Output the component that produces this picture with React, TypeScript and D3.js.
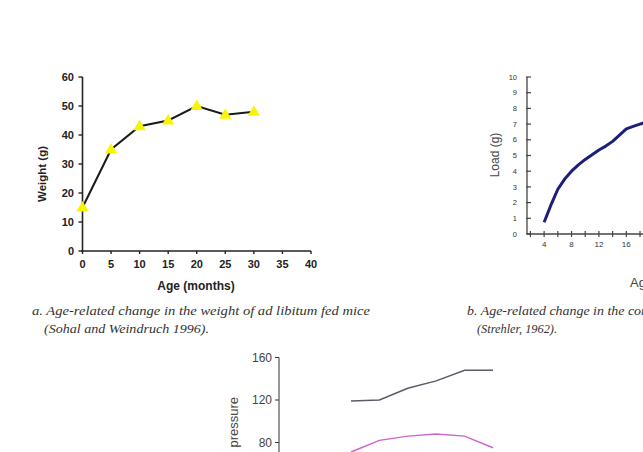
import React from 'react';
import * as d3 from 'd3';

// panel a: body weight of ad libitum fed mice
const weightAges: number[] = [0, 5, 10, 15, 20, 25, 30];
const weightValues: number[] = [15, 35, 43, 45, 50, 47, 48];
const weightYTicks: number[] = [0, 10, 20, 30, 40, 50, 60];
const weightXTicks: number[] = [0, 5, 10, 15, 20, 25, 30, 35, 40];

// panel b: load lifted by muscle
const loadAges: number[] = [4, 5, 6, 7, 8, 9, 10, 11, 12, 13, 14, 15, 16, 17, 18, 19];
const loadValues: number[] = [0.75, 1.85, 2.85, 3.5, 4.0, 4.4, 4.75, 5.05, 5.35, 5.6, 5.9, 6.3, 6.7, 6.85, 7.0, 7.15];
const loadYTicks: number[] = [0, 1, 2, 3, 4, 5, 6, 7, 8, 9, 10];
const loadXTicks: number[] = [2, 4, 6, 8, 10, 12, 14, 16, 18, 20];
const loadXLabels: number[] = [4, 8, 12, 16, 20];

// panel c: blood pressure
const pressureAges: number[] = [30, 40, 50, 60, 70, 80];
const systolic: number[] = [119, 120, 131, 138, 148, 148];
const diastolic: number[] = [71, 82, 86, 88, 86, 75];
const pressureTicks: number[] = [80, 120, 160];

const sans = '"Liberation Sans", Arial, sans-serif';
const serif = '"Liberation Serif", "Times New Roman", serif';

const App: React.FC = () => {
  // ---- a ----
  const xA = d3.scaleLinear().domain([0, 40]).range([82.5, 311]);
  const yA = d3.scaleLinear().domain([0, 60]).range([251, 77]);
  const lineA = d3
    .line<number>()
    .x((_, i) => xA(weightAges[i]))
    .y((d) => yA(d));
  const tri = d3.symbol().type(d3.symbolTriangle).size(65);

  // ---- b ----
  const xB = d3.scaleLinear().domain([1.5, 20]).range([527, 527 + 18.5 * 6.85]);
  const yB = d3.scaleLinear().domain([0, 10]).range([234, 77]);
  const lineB = d3
    .line<number>()
    .x((_, i) => xB(loadAges[i]))
    .y((d) => yB(d));

  // ---- c ----
  const xC = d3.scaleLinear().domain([30, 80]).range([351, 493]);
  const yC = d3.scaleLinear().domain([80, 160]).range([442.5, 357.5]);
  const lineC = d3
    .line<number>()
    .x((_, i) => xC(pressureAges[i]))
    .y((d) => yC(d));

  return (
    <svg
      width={643}
      height={452}
      style={{ position: 'absolute', left: 0, top: 0, background: '#fff' }}
    >
      <rect width={643} height={452} fill="#fff" />

      {/* a. weight */}
      <g fontFamily={sans} fontWeight="bold" fill="#222">
        <line x1={xA(0)} x2={xA(0)} y1={yA(60)} y2={yA(0) + 1} stroke="#222" strokeWidth={1.6} />
        <line x1={xA(0) - 1} x2={xA(40)} y1={yA(0)} y2={yA(0)} stroke="#222" strokeWidth={1.6} />
        {weightYTicks.map((t) => (
          <g key={'ay' + t}>
            <line x1={xA(0) - 4} x2={xA(0)} y1={yA(t)} y2={yA(t)} stroke="#222" strokeWidth={1.4} />
            <text x={74} y={yA(t)} dy="0.36em" fontSize={11} textAnchor="end">
              {t}
            </text>
          </g>
        ))}
        {weightXTicks.map((t) => (
          <g key={'ax' + t}>
            <line x1={xA(t)} x2={xA(t)} y1={yA(0)} y2={yA(0) + 3} stroke="#222" strokeWidth={1.4} />
            <text x={xA(t)} y={268} fontSize={11} textAnchor="middle">
              {t}
            </text>
          </g>
        ))}
        <text
          transform="translate(46,174) rotate(-90)"
          fontSize={11.5}
          textAnchor="middle"
        >
          Weight (g)
        </text>
        <text x={196} y={290} fontSize={12} textAnchor="middle">
          Age (months)
        </text>
        <path d={lineA(weightValues) || ''} fill="none" stroke="#1a1a1a" strokeWidth={2} />
        {weightValues.map((v, i) => (
          <path
            key={'am' + i}
            d={tri() || ''}
            transform={`translate(${xA(weightAges[i])},${yA(v) + 0.5})`}
            fill="#f8f400"
          />
        ))}
      </g>
      <g fontFamily={serif} fontStyle="italic" fill="#333" fontSize={13}>
        <text x={32} y={315} textLength={338} lengthAdjust="spacingAndGlyphs">
          a. Age-related change in the weight of ad libitum fed mice
        </text>
        <text x={44} y={333} textLength={165} lengthAdjust="spacingAndGlyphs">
          (Sohal and Weindruch 1996).
        </text>
      </g>

      {/* b. load */}
      <g fontFamily={sans} fill="#333">
        <line x1={xB(1.5)} x2={xB(1.5)} y1={yB(10)} y2={yB(0)} stroke="#444" strokeWidth={1.3} />
        <line x1={xB(1.5)} x2={643} y1={yB(0)} y2={yB(0)} stroke="#444" strokeWidth={1.3} />
        {loadYTicks.map((t) => (
          <g key={'by' + t}>
            <line x1={xB(1.5) - 1} x2={xB(1.5) + 4} y1={yB(t)} y2={yB(t)} stroke="#444" strokeWidth={1.2} />
            <text x={517} y={yB(t)} dy="0.35em" fontSize={7.5} textAnchor="end">
              {t}
            </text>
          </g>
        ))}
        {loadXTicks.map((t) => (
          <line key={'bx' + t} x1={xB(t)} x2={xB(t)} y1={yB(0) - 3} y2={yB(0) + 3} stroke="#444" strokeWidth={1.2} />
        ))}
        {loadXLabels.map((t) => (
          <text key={'bl' + t} x={xB(t)} y={247} fontSize={8} textAnchor="middle">
            {t}
          </text>
        ))}
        <text transform="translate(499,155) rotate(-90)" fontSize={12} textAnchor="middle" fill="#444">
          Load (g)
        </text>
        <text x={630} y={287} fontSize={13} fill="#444">
          Age (months)
        </text>
        <path d={lineB(loadValues) || ''} fill="none" stroke="#1d1d7a" strokeWidth={3} strokeLinejoin="round" />
      </g>
      <g fontFamily={serif} fontStyle="italic" fill="#333" fontSize={13}>
        <text x={467} y={315} textLength={350} lengthAdjust="spacingAndGlyphs">
          b. Age-related change in the contraction strength of rat muscle
        </text>
        <text x={477} y={333} textLength={80} lengthAdjust="spacingAndGlyphs">
          (Strehler, 1962).
        </text>
      </g>

      {/* c. pressure */}
      <g fontFamily={sans} fill="#444">
        <line x1={279} x2={279} y1={yC(160)} y2={460} stroke="#333" strokeWidth={1} />
        {pressureTicks.map((t) => (
          <g key={'cy' + t}>
            <line x1={275} x2={279} y1={yC(t)} y2={yC(t)} stroke="#333" strokeWidth={1} />
            <text x={272} y={yC(t)} dy="0.35em" fontSize={12} textAnchor="end">
              {t}
            </text>
          </g>
        ))}
        <text transform="translate(238,397) rotate(-90)" fontSize={13} textAnchor="end">
          Blood pressure
        </text>
        <path d={lineC(systolic) || ''} fill="none" stroke="#5a5a6a" strokeWidth={1.5} />
        <path d={lineC(diastolic) || ''} fill="none" stroke="#cc66cc" strokeWidth={1.5} />
      </g>
    </svg>
  );
};

export default App;
